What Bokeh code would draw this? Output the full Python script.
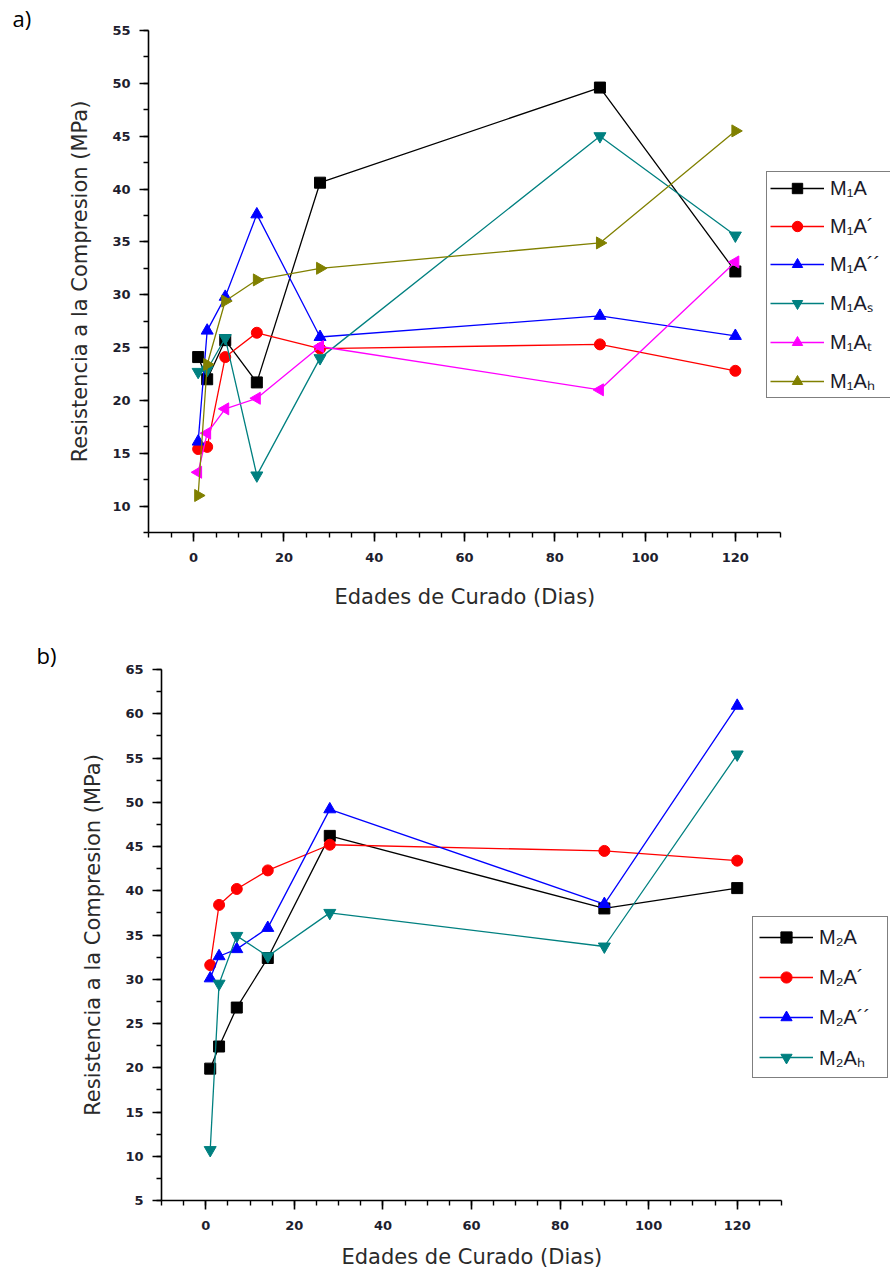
import math
from bokeh.plotting import figure
from bokeh.models import (Legend, LegendItem, SingleIntervalTicker, Range1d, Title,
                          ColumnDataSource, BoxAnnotation)
from bokeh.layouts import column, row
from bokeh.embed import file_html
from bokeh.resources import INLINE

# ---- data ----
days = [1, 3, 7, 14, 28, 90, 120]

m1a = [24.1, 22.0, 25.7, 21.7, 40.6, 49.6, 32.2]
m1a_p = [15.4, 15.6, 24.1, 26.4, 24.9, 25.3, 22.8]
m1a_pp = [16.1, 26.6, 29.8, 37.6, 26.0, 28.0, 26.1]
m1a_s = [22.7, 22.9, 25.9, 12.9, 24.0, 45.0, 35.6]
m1a_t = [13.2, 16.9, 19.2, 20.2, 25.1, 21.0, 33.1]
m1a_h = [11.0, 23.4, 29.4, 31.4, 32.5, 34.9, 45.5]

m2a = [19.9, 22.4, 26.8, 32.4, 46.2, 38.0, 40.3]
m2a_p = [31.6, 38.4, 40.2, 42.3, 45.2, 44.5, 43.4]
m2a_pp = [30.1, 32.6, 33.4, 35.8, 49.2, 38.5, 60.9]
m2a_h = [10.7, 29.5, 34.9, 32.6, 37.5, 33.7, 55.4]

labels_a = ["M₁A", "M₁A´", "M₁A´´", "M₁Aₛ", "M₁Aₜ", "M₁Aₕ"]
labels_b = ["M₂A", "M₂A´", "M₂A´´", "M₂Aₕ"]

x_title = "Edades de Curado (Dias)"
y_title = "Resistencia a la Compresion (MPa)"
x_axis_span = (-10, 130)

# ---- styles ----
BLACK, RED, BLUE, TEAL, MAGENTA, OLIVE = "#000000", "#FF0000", "#0000FF", "#008080", "#FF00FF", "#808000"
STY = {
    "sq": ("square", 0.0, 11),
    "ci": ("circle", 0.0, 11),
    "up": ("triangle", 0.0, 12),
    "dn": ("inverted_triangle", 0.0, 12),
    "lf": ("triangle", math.pi / 2, 12),
    "rt": ("triangle", -math.pi / 2, 12),
}

TICK_FONT = "DejaVu Sans"
TITLE_FONT = "DejaVu Sans"
CANVAS_W = 890
XT_HALF_W = 130  # approx. half width of the x title text at 21px


def make_fig(height, left, axis_px, top, bottom, yr, tag, tag_offset, tag_standoff,
             xt_standoff, yt_standoff):
    # the frame runs to the canvas edge so the legend is not clipped; the x axis
    # itself is limited to x_axis_span via bounds
    x0, x1 = x_axis_span
    frame_w = CANVAS_W - left
    x_end = x0 + frame_w * (x1 - x0) / axis_px
    p = figure(width=CANVAS_W, height=height, output_backend="svg", toolbar_location=None,
               x_range=Range1d(x0, x_end), y_range=Range1d(*yr),
               min_border_left=left, min_border_right=0,
               min_border_top=top, min_border_bottom=bottom)
    p.outline_line_color = None
    p.xgrid.visible = False
    p.ygrid.visible = False
    p.xaxis.ticker = SingleIntervalTicker(interval=20, num_minor_ticks=4)
    p.yaxis.ticker = SingleIntervalTicker(interval=5, num_minor_ticks=2)
    p.xaxis.bounds = x_axis_span
    for ax in (p.xaxis, p.yaxis):
        ax.axis_line_width = 1.6
        ax.axis_line_color = "black"
        ax.major_tick_line_width = 1.6
        ax.minor_tick_line_width = 1.4
        ax.major_tick_in = 0
        ax.minor_tick_in = 0
        ax.major_tick_out = 9
        ax.minor_tick_out = 5
        ax.major_label_text_font = TICK_FONT
        ax.major_label_text_font_style = "bold"
        ax.major_label_text_font_size = "13px"
        ax.major_label_text_color = "#1e1e2e"
        ax.axis_label_text_font = TITLE_FONT
        ax.axis_label_text_font_style = "normal"
        ax.axis_label_text_font_size = "21px"
        ax.axis_label_text_color = "#2a2a2a"
    p.yaxis.axis_label = y_title
    p.xaxis.major_label_standoff = 11
    p.yaxis.major_label_standoff = 9
    p.yaxis.axis_label_standoff = yt_standoff
    # x title centred under the drawn axis (not under the wider frame)
    xt = Title(text=x_title, align="left", offset=axis_px / 2 - XT_HALF_W,
               standoff=xt_standoff, text_font=TITLE_FONT, text_font_style="normal",
               text_font_size="21px", text_color="#2a2a2a")
    p.add_layout(xt, "below")
    p.title.text = tag
    p.title.align = "left"
    p.title.offset = tag_offset
    p.title.standoff = tag_standoff
    p.title.text_font = "Open Sans"
    p.title.text_font_style = "normal"
    p.title.text_font_size = "22px"
    p.title.text_color = "black"
    return p


def add_series(p, series, labels, loc, row_h, spacing, padding, label_w,
               frame_left, frame_bottom):
    items = []
    for (vals, color, key), lab in zip(series, labels):
        marker, ang, size = STY[key]
        src = ColumnDataSource(dict(x=days, y=vals, angle=[ang] * len(days)))
        lr = p.line("x", "y", source=src, line_color=color, line_width=1.3)
        sr = p.scatter("x", "y", source=src, marker=marker, angle="angle", size=size,
                       fill_color=color, line_color=color)
        items.append(LegendItem(label=lab, renderers=[lr, sr], index=0))
    glyph_w = 54
    leg = Legend(items=items, location=loc)
    leg.border_line_color = "black"
    leg.border_line_width = 1.6
    leg.background_fill_alpha = 1.0
    leg.label_text_font = "Liberation Sans"
    leg.label_text_font_size = "20px"
    leg.label_text_color = "#1a1a2a"
    leg.glyph_width = glyph_w
    leg.glyph_height = row_h
    leg.label_height = row_h
    leg.label_width = label_w
    leg.spacing = spacing
    leg.padding = padding
    leg.margin = 0
    leg.label_standoff = 6
    p.add_layout(leg, "center")
    # red selection frame around the first legend swatch (as in the original)
    n = len(items)
    leg_h = n * row_h + (n - 1) * spacing + 2 * padding
    top_c = frame_bottom - (loc[1] + leg_h - padding)
    left_c = frame_left + loc[0] + padding
    box = BoxAnnotation(left=left_c, right=left_c + glyph_w,
                        top=top_c, bottom=top_c + row_h,
                        left_units="canvas", right_units="canvas",
                        top_units="canvas", bottom_units="canvas",
                        fill_alpha=0, line_color="#FF0000", line_width=1.4,
                        line_alpha=1.0, level="overlay", editable=False)
    p.add_layout(box)
    return leg


# ---- panel a ----
H1, B1 = 627, 95
p1 = make_fig(H1, 148, 632, 30, B1, (7.5, 55), "a)", -136, -4, 36, 17)
add_series(p1, [(m1a, BLACK, "sq"), (m1a_p, RED, "ci"), (m1a_pp, BLUE, "up"),
                (m1a_s, TEAL, "dn"), (m1a_t, MAGENTA, "lf"), (m1a_h, OLIVE, "rt")],
           labels_a, (618, 134), 26, 12, 3, 58, 148, H1 - B1)

# ---- panel b ----
H2, B2 = 652, 79
p2 = make_fig(H2, 161, 620, 42, B2, (5, 65), "b)", -125, 0, 20, 17)
add_series(p2, [(m2a, BLACK, "sq"), (m2a_p, RED, "ci"), (m2a_pp, BLUE, "up"),
                (m2a_h, TEAL, "dn")],
           labels_b, (591, 122), 28, 12, 6, 62, 161, H2 - B2)

layout = column(row(p1), row(p2), spacing=0)
open("out.html", "w").write(file_html(layout, INLINE))
